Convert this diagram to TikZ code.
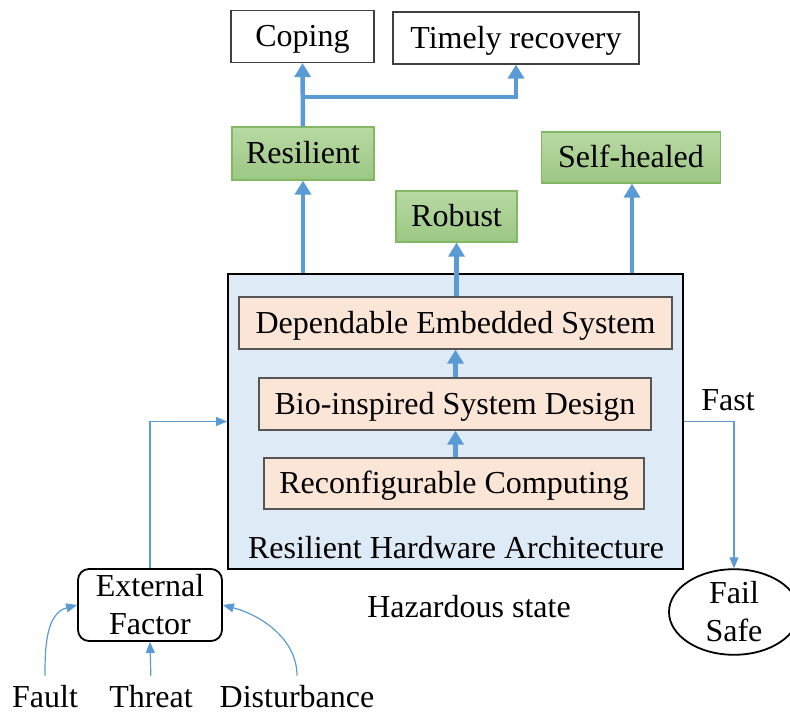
\documentclass[tikz,border=0pt]{standalone}
\usepackage{fontspec}
\setmainfont{Liberation Serif}
\usetikzlibrary{arrows.meta,shapes.geometric}
\definecolor{flow}{HTML}{5B9BD5}
\definecolor{leafTop}{HTML}{B8D9A3}
\definecolor{leafBot}{HTML}{9CC783}
\definecolor{leafLine}{HTML}{82B863}
\definecolor{layerFill}{HTML}{FBE5D6}
\definecolor{layerLine}{HTML}{555555}
\definecolor{archFill}{HTML}{DEEBF7}
\tikzset{
  base/.style={inner sep=0pt, align=center},
  oneline/.style={base, text height=24pt, text depth=4pt},
  goalbox/.style={oneline, draw=black!75, line width=1.2pt, fill=white},
  leafbox/.style={oneline, draw=leafLine, line width=1.2pt, top color=leafTop, bottom color=leafBot},
  layerbox/.style={oneline, draw=layerLine, line width=1.3pt, fill=layerFill},
  archbox/.style={base, draw=black, line width=2pt, fill=archFill},
  factorbox/.style={base, draw=black, line width=1.8pt, rounded corners=11pt},
  endstate/.style={base, ellipse, draw=black, line width=1.8pt},
  source/.style={anchor=base, inner xsep=2pt, inner ysep=2pt},
  bigflow/.style={draw=flow, line width=4.5pt, -{Triangle[width=16pt,length=14pt]}},
  thinflow/.style={draw=flow, line width=1.2pt, -{Triangle[width=9pt,length=11pt]}},
}
\begin{document}
\begin{tikzpicture}[x=1pt, y=-1pt, font=\fontsize{32}{38}\selectfont]
\useasboundingbox (0,0) rectangle (790,715);

% outcomes
\node[goalbox, minimum width=143pt, minimum height=52pt] (cop) at (302.5,36.5) {Coping};
\node[goalbox, minimum width=246pt, minimum height=52pt] (tim) at (516,38) {Timely recovery};

% resilience properties
\node[leafbox, minimum width=142pt, minimum height=53pt] (res) at (303,153.5) {Resilient};
\node[leafbox, minimum width=121pt, minimum height=51pt] (rob) at (456.5,216.5) {Robust};
\node[leafbox, minimum width=179pt, minimum height=51pt] (shl) at (631,157.5) {Self-healed};

% architecture block with its layers
\node[archbox, minimum width=455pt, minimum height=295pt] (arch) at (455.5,421.5) {};
\node[layerbox, minimum width=433pt, minimum height=52pt] (dep) at (455.5,323) {Dependable Embedded System};
\node[layerbox, minimum width=392pt, minimum height=52pt] (bio) at (455,404) {Bio-inspired System Design};
\node[layerbox, minimum width=380pt, minimum height=51pt] (rec) at (454,483.5) {Reconfigurable Computing};
\node[base, anchor=base] (archlbl) at (456,558) {Resilient Hardware Architecture};

% external influences
\node[factorbox, minimum width=144pt, minimum height=72pt] (ext) at (150,605) {External\\Factor};
\node[source] (fault) at (45,707) {Fault};
\node[source] (threat) at (151,707) {Threat};
\node[source] (dist) at (297,707) {Disturbance};

% failure path
\node[anchor=base] (fast) at (728,410) {Fast};
\node[endstate, minimum width=130pt, minimum height=83pt] (fs) at (734,612) {Fail\\Safe};
\node[anchor=base] (haz) at (469,617) {Hazardous state};

% layer stack
\draw[bigflow] (rec.north -| arch.center) -- (bio.south -| arch.center);
\draw[bigflow] (bio.north -| arch.center) -- (dep.south -| arch.center);

% properties emerging from the architecture
\coordinate (shx) at (632,0);
\draw[bigflow] (res.south |- arch.north) -- (res.south);
\draw[bigflow] (rob.south |- dep.north) -- (rob.south);
\draw[bigflow] (shx |- arch.north) -- (shx |- shl.south);

% resilient leads to coping and timely recovery
\coordinate (split) at (303,97);
\draw[bigflow] (res.north) -- (cop.south);
\draw[bigflow] (split) -| (tim.south);

% external factor into the architecture
\draw[thinflow] (ext.north) |- (arch.west);
\draw[thinflow, shorten <=7pt] (fault.north) to[out=90, in=195] (ext.west);
\draw[thinflow, shorten <=7pt] (threat.north) -- (ext.south);
\draw[thinflow, shorten <=7pt] (dist.north) to[out=90, in=-15] (ext.east);

% fast route to fail safe
\draw[thinflow] (arch.east) -| (fs.north);
\end{tikzpicture}
\end{document}
